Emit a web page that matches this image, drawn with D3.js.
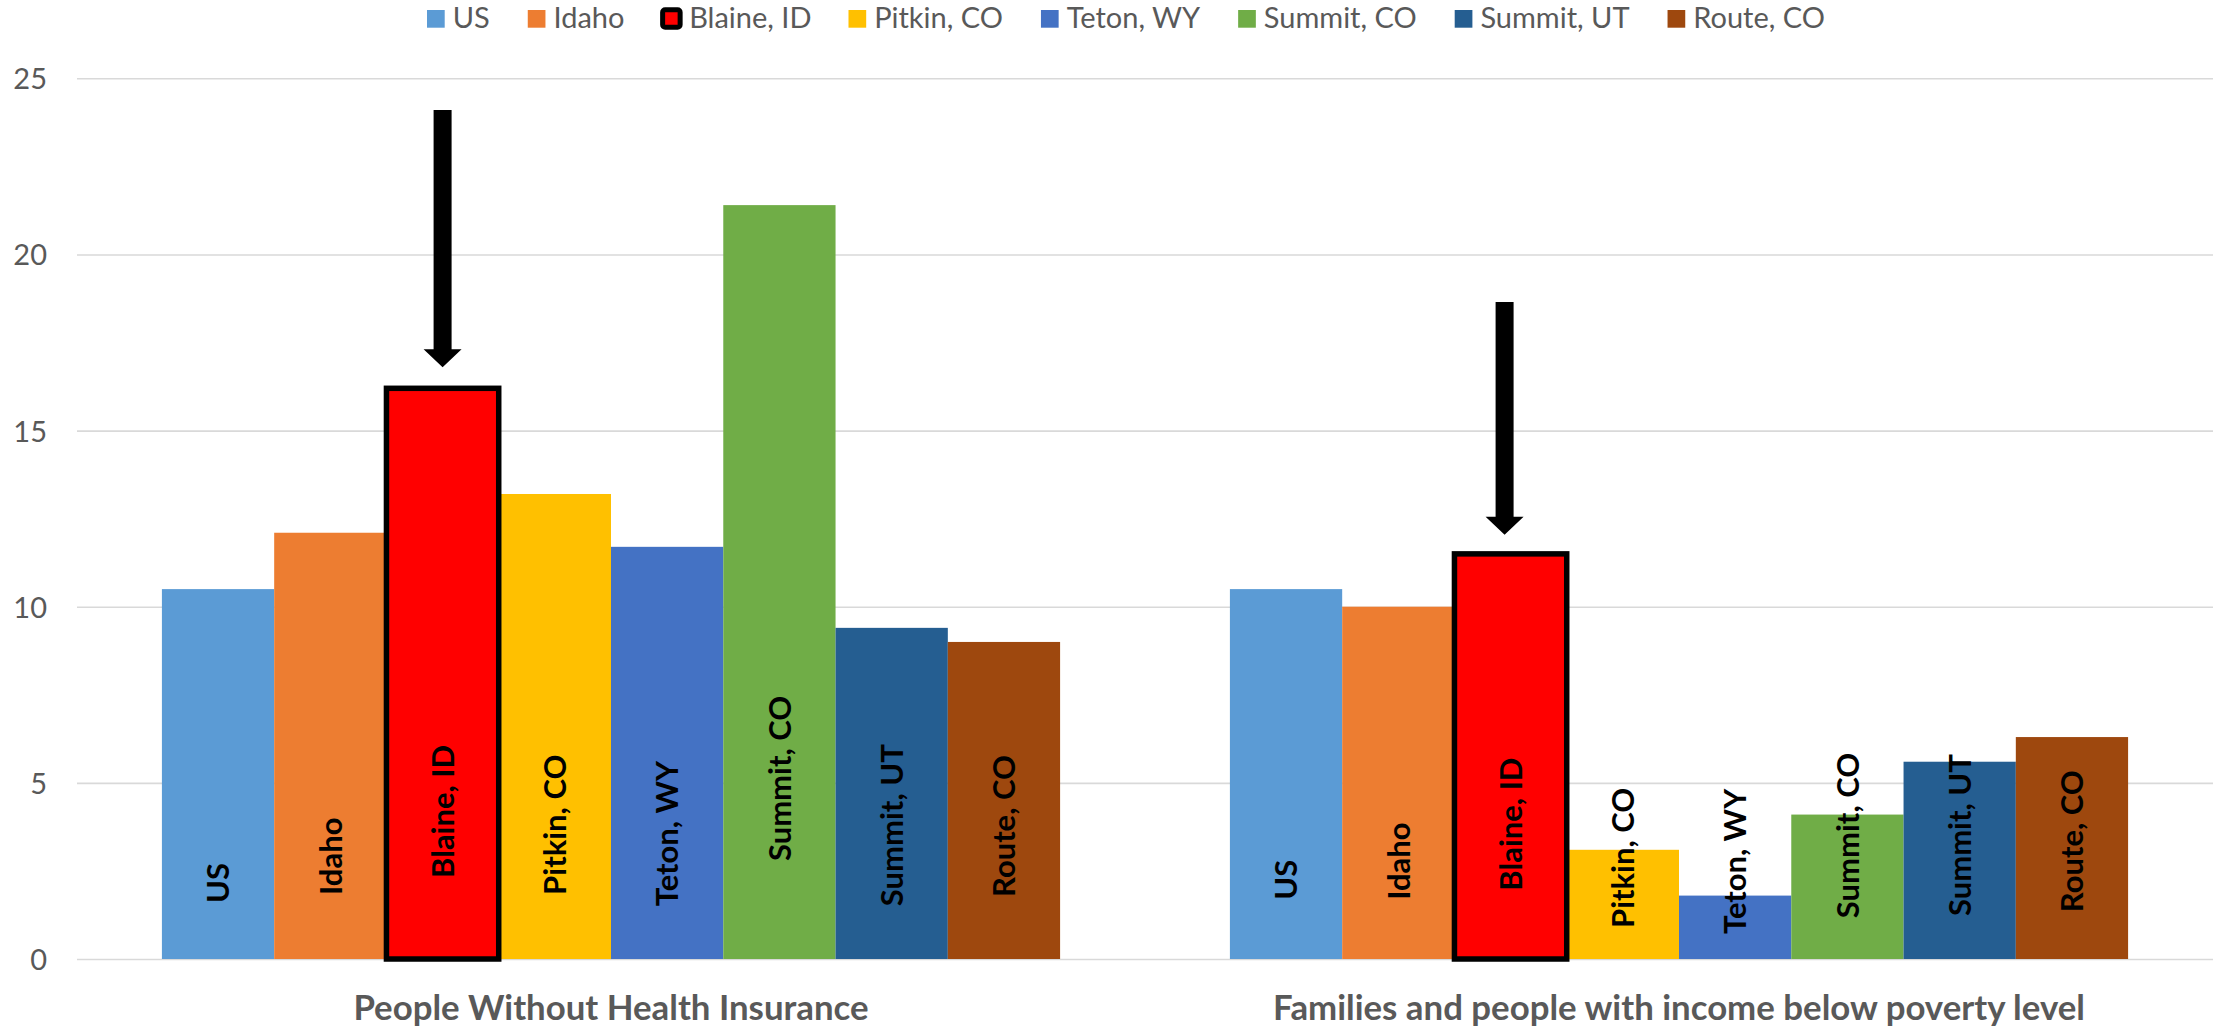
<!DOCTYPE html>
<html>
<head>
<meta charset="utf-8">
<script src="https://cdn.jsdelivr.net/npm/d3@7"></script>
<style>
  html, body { margin: 0; padding: 0; background: #ffffff; }
  svg { display: block; }
</style>
</head>
<body>
<svg id="chart" width="2221" height="1028"></svg>
<script>
// ---- data ----
const categories = ["People Without Health Insurance", "Families and people with income below poverty level"];
const seriesNames = ["US", "Idaho", "Blaine, ID", "Pitkin, CO", "Teton, WY", "Summit, CO", "Summit, UT", "Route, CO"];
const healthInsurance = [10.5, 12.1, 16.2, 13.2, 11.7, 21.4, 9.4, 9.0];
const povertyLevel = [10.5, 10.0, 11.5, 3.1, 1.8, 4.1, 5.6, 6.3];
const seriesColors = ["#5B9BD5", "#ED7D31", "#FF0000", "#FFC000", "#4472C4", "#70AD47", "#255E91", "#9E480E"];
const yTicks = [0, 5, 10, 15, 20, 25];
const highlighted = "Blaine, ID";
// where each in-bar label starts (value units), as placed in the original
const labelStartHealth = [1.59, 1.82, 2.30, 1.82, 1.50, 2.78, 1.50, 1.76];
const labelStartPoverty = [1.68, 1.68, 1.94, 0.88, 0.71, 1.16, 1.22, 1.33];
// arrow annotations (value units)
const arrowFrom = [24.1, 18.65];
const arrowTo = [16.8, 12.04];

const valuesByCategory = [healthInsurance, povertyLevel];
const labelStarts = [labelStartHealth, labelStartPoverty];

// ---- layout ----
const svg = d3.select("#chart");
const plotLeft = 77, plotRight = 2213, plotTop = 78.3, plotBottom = 959;

const x0 = d3.scaleBand().domain(categories).range([plotLeft, plotRight])
  .paddingInner(0.159).paddingOuter(0.0795);
const x1 = d3.scaleBand().domain(seriesNames).range([0, x0.bandwidth()]).padding(0);
const y = d3.scaleLinear().domain([0, 25]).range([plotBottom, plotTop]);
const color = d3.scaleOrdinal().domain(seriesNames).range(seriesColors);

// gridlines + tick labels
const yAxis = d3.axisLeft(y).tickValues(yTicks).tickSize(-(plotRight - plotLeft)).tickPadding(30);
const gAxis = svg.append("g").attr("transform", `translate(${plotLeft},0)`).call(yAxis);
gAxis.select(".domain").remove();
gAxis.selectAll(".tick line").attr("stroke", "#D9D9D9").attr("stroke-width", 1.6);
gAxis.selectAll(".tick text")
  .attr("fill", "#595959")
  .style("font-family", "Lato, 'Open Sans', sans-serif")
  .style("font-size", "29px")
  .attr("dy", "0.36em");

// bars
const rows = [];
categories.forEach((c, ci) => {
  seriesNames.forEach((s, si) => {
    rows.push({ cat: c, ci, series: s, si, value: valuesByCategory[ci][si], labelStart: labelStarts[ci][si] });
  });
});
const ordered = rows.filter(d => d.series !== highlighted).concat(rows.filter(d => d.series === highlighted));

svg.append("g").selectAll("rect")
  .data(ordered)
  .join("rect")
  .attr("x", d => x0(d.cat) + x1(d.series))
  .attr("y", d => y(d.value))
  .attr("width", x1.bandwidth())
  .attr("height", d => y(0) - y(d.value))
  .attr("fill", d => color(d.series))
  .attr("stroke", d => d.series === highlighted ? "#000000" : "none")
  .attr("stroke-width", d => d.series === highlighted ? 5.5 : 0);

// in-bar rotated labels
svg.append("g").selectAll("text")
  .data(rows)
  .join("text")
  .attr("transform", d => `translate(${x0(d.cat) + x1(d.series) + x1.bandwidth() / 2},${y(d.labelStart)}) rotate(-90)`)
  .attr("y", 11.2)
  .attr("text-anchor", "start")
  .attr("fill", "#000000")
  .style("font-family", "Lato, 'Open Sans', sans-serif")
  .style("font-weight", "bold")
  .style("font-size", "31px")
  .text(d => d.series);

// arrows pointing at highlighted bars
const arrowG = svg.append("g");
categories.forEach((c, ci) => {
  const cx = x0(c) + x1(highlighted) + x1.bandwidth() / 2 - (ci === 1 ? 6 : 0);
  const yTop = y(arrowFrom[ci]);
  const yTip = y(arrowTo[ci]);
  const headH = 18, headW = 38, shaftW = 18;
  const pts = [
    [cx - shaftW / 2, yTop], [cx + shaftW / 2, yTop],
    [cx + shaftW / 2, yTip - headH], [cx + headW / 2, yTip - headH],
    [cx, yTip],
    [cx - headW / 2, yTip - headH], [cx - shaftW / 2, yTip - headH]
  ];
  arrowG.append("path")
    .attr("d", d3.line()(pts) + "Z")
    .attr("fill", "#000000");
});

// category titles
svg.append("g").selectAll("text")
  .data(categories)
  .join("text")
  .attr("x", d => x0(d) + x0.bandwidth() / 2)
  .attr("y", 1020)
  .attr("text-anchor", "middle")
  .attr("fill", "#595959")
  .style("font-family", "Lato, 'Open Sans', sans-serif")
  .style("font-weight", "bold")
  .style("font-size", "34.8px")
  .text(d => d);

// legend
const legend = svg.append("g");
let cursor = 427;
seriesNames.forEach((s) => {
  const item = legend.append("g");
  if (s === highlighted) {
    item.append("rect")
      .attr("x", cursor + 0.2).attr("y", 9.7)
      .attr("width", 17.5).attr("height", 17.5)
      .attr("rx", 2.5)
      .attr("fill", color(s))
      .attr("stroke", "#000000").attr("stroke-width", 5);
  } else {
    item.append("rect")
      .attr("x", cursor).attr("y", 10)
      .attr("width", 17.7).attr("height", 17.7)
      .attr("fill", color(s));
  }
  const t = item.append("text")
    .attr("x", cursor + 17.7 + (s === highlighted ? 9 : 8))
    .attr("y", 28)
    .attr("fill", "#595959")
    .style("font-family", "Lato, 'Open Sans', sans-serif")
    .style("font-size", "29px")
    .text(s);
  const w = t.node().getComputedTextLength();
  cursor += 17.7 + 8 + w + 38;
});
</script>
</body>
</html>
